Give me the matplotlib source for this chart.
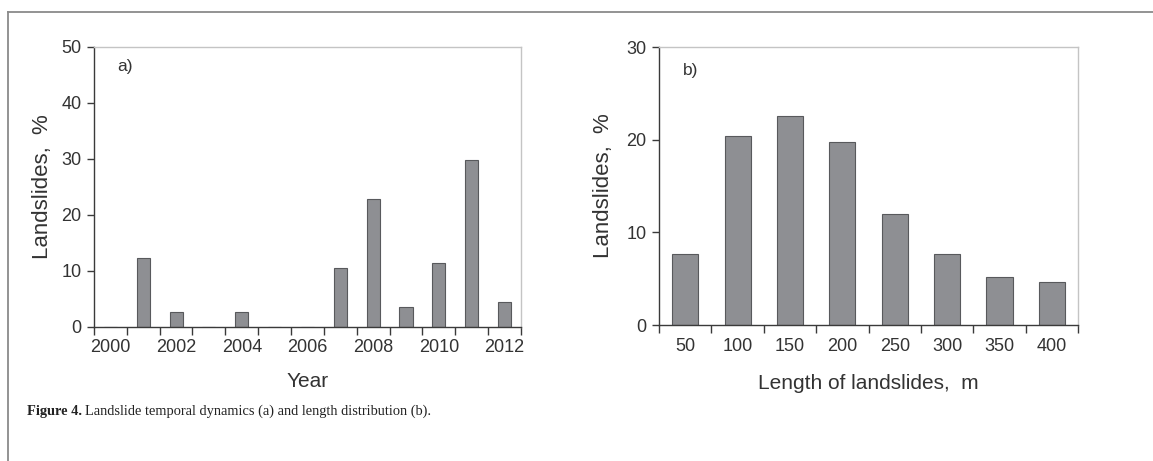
import numpy as np
import matplotlib
matplotlib.use("Agg")
import matplotlib.pyplot as plt
from matplotlib.lines import Line2D

plt.rcParams['font.family'] = ['Liberation Sans', 'DejaVu Sans']

# yearly share of landslides, %
years = list(range(2000, 2013))
year_share = [0, 12.3, 2.6, 0, 2.6, 0, 0, 10.5, 22.9, 3.5, 11.4, 29.9, 4.4]

# length distribution, %
lengths = [50, 100, 150, 200, 250, 300, 350, 400]
length_share = [7.7, 20.4, 22.6, 19.7, 12.0, 7.7, 5.2, 4.6]

bar_fill = "#8e8f93"
bar_edge = "#58595c"
text_col = "#333333"

fig = plt.figure(figsize=(11.53, 4.61), dpi=100)

# page frame
fig.add_artist(Line2D([8/1153, 1.0], [1 - 12/461, 1 - 12/461], transform=fig.transFigure,
                      color="#8a8a8a", lw=1.3))
fig.add_artist(Line2D([8/1153, 8/1153], [1 - 12/461, 0.0], transform=fig.transFigure,
                      color="#8a8a8a", lw=1.3))


def style_axes(ax, n, labels, ymax):
    ax.set_xlim(-0.5, n - 0.5)
    ax.set_ylim(0, ymax)
    for s in ("left", "bottom"):
        ax.spines[s].set_color("#3a3a3a")
        ax.spines[s].set_linewidth(1.0)
    for s in ("top", "right"):
        ax.spines[s].set_color("#c4c4c4")
        ax.spines[s].set_linewidth(1.0)
    ax.set_xticks(np.arange(n + 1) - 0.5)
    ax.set_xticklabels([])
    ax.set_xticks(np.arange(n), minor=True)
    ax.set_xticklabels(labels, minor=True)
    ax.tick_params(axis="x", which="major", direction="out", length=6, width=1, color="#3a3a3a")
    ax.tick_params(axis="x", which="minor", length=0, pad=9, labelsize=13, labelcolor=text_col)
    ax.set_yticks(np.arange(0, ymax + 1, 10))
    ax.tick_params(axis="y", direction="out", length=5, width=1, color="#3a3a3a",
                   labelsize=13, labelcolor=text_col, pad=4)


# a) temporal dynamics
ax1 = fig.add_axes([0.0815, 0.2907, 0.3703, 0.6074])
ax1.bar(np.arange(len(years)), year_share, width=0.4, color=bar_fill,
        edgecolor=bar_edge, linewidth=0.8)
year_labels = [str(y) if y % 2 == 0 else "" for y in years]
style_axes(ax1, len(years), year_labels, 50)
ax1.set_xlabel("Year", fontsize=15, color=text_col, labelpad=11)
ax1.set_ylabel("Landslides,  %", fontsize=16, color=text_col, labelpad=6)
ax1.text(0.054, 0.93, "a)", transform=ax1.transAxes, fontsize=12.5, color=text_col,
         va="center", ha="left")

# b) length distribution
ax2 = fig.add_axes([0.5716, 0.295, 0.3634, 0.603])
ax2.bar(np.arange(len(lengths)), length_share, width=0.5, color=bar_fill,
        edgecolor=bar_edge, linewidth=0.8)
style_axes(ax2, len(lengths), [str(v) for v in lengths], 30)
ax2.set_xlabel("Length of landslides,  m", fontsize=15, color=text_col, labelpad=14)
ax2.set_ylabel("Landslides,  %", fontsize=16, color=text_col, labelpad=9)
ax2.text(0.057, 0.914, "b)", transform=ax2.transAxes, fontsize=12.5, color=text_col,
         va="center", ha="left")

# caption
cap_y = 1 - 411/461
t = fig.text(27/1153, cap_y, "Figure 4.", family=["Liberation Serif", "DejaVu Serif"],
             weight="bold", fontsize=10.4, color="#222222", va="center")
fig.canvas.draw()
bb = t.get_window_extent()
fig.text((bb.x1 + 3) / 1153, cap_y,
         "Landslide temporal dynamics (a) and length distribution (b).",
         family=["Liberation Serif", "DejaVu Serif"], fontsize=10.4, color="#222222",
         va="center")

fig.savefig("out.png", dpi=100)
